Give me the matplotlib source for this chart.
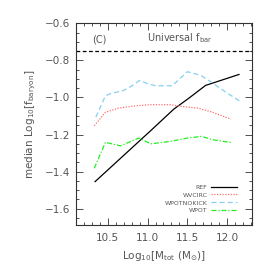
import matplotlib
matplotlib.use("Agg")
import matplotlib.pyplot as plt
from matplotlib.ticker import MultipleLocator

# data
ref_x = [10.34, 11.05, 11.33, 11.51, 11.73, 12.15]
ref_y = [-1.454, -1.175, -1.063, -1.007, -0.935, -0.876]

wvcirc_x = [10.33, 10.47, 10.63, 10.85, 11.04, 11.29, 11.41, 11.63, 11.79, 12.05]
wvcirc_y = [-1.153, -1.080, -1.058, -1.045, -1.039, -1.039, -1.048, -1.057, -1.076, -1.117]

wpotnokick_x = [10.35, 10.47, 10.53, 10.70, 10.79, 10.90, 11.00, 11.10, 11.25, 11.31, 11.50, 11.67, 11.79, 12.00, 12.17]
wpotnokick_y = [-1.106, -0.991, -0.980, -0.962, -0.941, -0.908, -0.926, -0.937, -0.937, -0.937, -0.861, -0.881, -0.914, -0.976, -1.022]

wpot_x = [10.33, 10.47, 10.66, 10.89, 11.04, 11.29, 11.50, 11.68, 11.83, 12.05]
wpot_y = [-1.382, -1.242, -1.261, -1.219, -1.250, -1.237, -1.219, -1.210, -1.229, -1.243]

universal_fbar = -0.752

txt = '#555555'
fig = plt.figure(figsize=(2.74, 2.74), dpi=100)
ax = fig.add_axes([76/274, 1 - 225/274, (251.7 - 76)/274, (225 - 23.3)/274])

ax.plot(ref_x, ref_y, color='black', lw=0.9, label='REF')
ax.plot(wvcirc_x, wvcirc_y, color='#ff7070', lw=0.9, ls=(0, (1, 1.2)), label='WVCIRC')
ax.plot(wpotnokick_x, wpotnokick_y, color='#87cef0', lw=0.9, ls=(0, (4, 2.5)), label='WPOTNOKICK')
ax.plot(wpot_x, wpot_y, color='#22ee22', lw=0.9, ls=(0, (4, 1.5, 1, 1.5)), label='WPOT')
ax.axhline(universal_fbar, color='black', lw=0.9, ls=(0, (3, 2)))

ax.set_xlim(10.1, 12.31)
ax.set_ylim(-1.688, -0.6)
ax.xaxis.set_major_locator(MultipleLocator(0.5))
ax.xaxis.set_minor_locator(MultipleLocator(0.1))
ax.yaxis.set_major_locator(MultipleLocator(0.2))
ax.yaxis.set_minor_locator(MultipleLocator(0.05))
ax.tick_params(which='both', direction='in', top=True, right=True, colors='#333333',
               labelcolor=txt, labelsize=7.5, width=0.6)
ax.tick_params(which='major', length=5)
ax.tick_params(axis='x', which='major', pad=6)
ax.tick_params(axis='y', which='major', pad=4)
ax.tick_params(which='minor', length=2.5)
for s in ax.spines.values():
    s.set_linewidth(0.8)
    s.set_color('#333333')

ax.set_xlabel(r'Log$_{10}$[M$_{\rm tot}$ (M$_{\odot}$)]', fontsize=7.5, color=txt, labelpad=4)
ax.set_ylabel(r'median Log$_{10}$[f$_{\rm baryon}$]', fontsize=7.5, color=txt, labelpad=5)

ax.text(0.09, 0.92, '(C)', transform=ax.transAxes, fontsize=7, color=txt, ha='left', va='center')
ax.text(0.59, 0.925, r'Universal f$_{\rm bar}$', transform=ax.transAxes, fontsize=7, color=txt,
        ha='center', va='center')

leg = ax.legend(loc='lower right', bbox_to_anchor=(0.93, 0.045), fontsize=4.5, frameon=False,
                markerfirst=False, handlelength=4.2, handletextpad=0.5, labelspacing=0.4,
                borderaxespad=0)
for t in leg.get_texts():
    t.set_color(txt)

fig.savefig('out.png', dpi=100)
